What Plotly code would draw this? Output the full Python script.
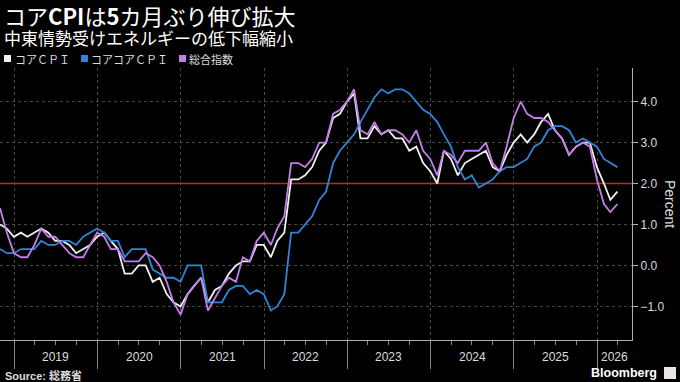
import plotly.graph_objects as go
import pandas as pd

# ---------------- data (y/y %, monthly, from Oct 2018) ----------------
start_month = "2018-10-31"
core_cpi = [
    1.0, 0.9, 0.7,
    0.8, 0.7, 0.8, 0.9, 0.8, 0.6, 0.6, 0.5, 0.3, 0.4, 0.5, 0.7,
    0.8, 0.6, 0.4, -0.2, -0.2, 0.0, 0.0, -0.4, -0.3, -0.7, -0.9, -1.0,
    -0.7, -0.5, -0.3, -0.9, -0.6, -0.5, -0.2, 0.0, 0.1, 0.1, 0.5, 0.5,
    0.2, 0.6, 0.8, 2.1, 2.1, 2.2, 2.4, 2.8, 3.0, 3.6, 3.7, 4.0,
    4.2, 3.1, 3.1, 3.4, 3.2, 3.3, 3.1, 3.1, 2.8, 2.9, 2.5, 2.3,
    2.0, 2.8, 2.6, 2.2, 2.5, 2.6, 2.7, 2.8, 2.4, 2.3, 2.7, 3.0,
    3.2, 3.0, 3.2, 3.5, 3.7, 3.3, 3.1, 2.7, 2.9, 3.0, 3.0, 2.4,
    2.0, 1.6, 1.8,
]
core_core_cpi = [
    0.4, 0.3, 0.3,
    0.4, 0.4, 0.4, 0.6, 0.5, 0.5, 0.6, 0.6, 0.5, 0.7, 0.8, 0.9,
    0.8, 0.6, 0.6, 0.2, 0.4, 0.4, 0.4, -0.1, -0.2, -0.3, -0.3, -0.4,
    0.0, 0.0, 0.0, -0.9, -0.9, -0.9, -0.6, -0.5, -0.5, -0.7, -0.6, -0.7,
    -1.1, -1.0, -0.7, 0.8, 0.8, 1.0, 1.2, 1.6, 1.8, 2.5, 2.8, 3.0,
    3.2, 3.5, 3.8, 4.1, 4.3, 4.2, 4.3, 4.3, 4.2, 4.0, 3.8, 3.7,
    3.5, 3.2, 2.9, 2.4, 2.1, 2.2, 1.9, 2.0, 2.1, 2.3, 2.4, 2.4,
    2.5, 2.6, 2.9, 3.0, 3.3, 3.4, 3.4, 3.3, 3.0, 3.1, 3.0, 2.9,
    2.6, 2.5, 2.4,
]
headline_cpi = [
    1.4, 0.8, 0.3,
    0.2, 0.2, 0.5, 0.9, 0.7, 0.7, 0.5, 0.3, 0.2, 0.2, 0.5, 0.8,
    0.7, 0.4, 0.4, 0.1, 0.1, 0.1, 0.3, 0.2, 0.0, -0.4, -0.9, -1.2,
    -0.7, -0.5, -0.3, -1.1, -0.8, -0.5, -0.3, -0.4, 0.2, 0.1, 0.6, 0.8,
    0.5, 0.9, 1.2, 2.5, 2.5, 2.4, 2.6, 3.0, 3.0, 3.7, 3.8, 4.0,
    4.3, 3.3, 3.2, 3.5, 3.2, 3.3, 3.3, 3.2, 3.0, 3.3, 2.8, 2.6,
    2.2, 2.8, 2.7, 2.5, 2.8, 2.8, 2.8, 3.0, 2.5, 2.3, 2.9, 3.6,
    4.0, 3.7, 3.6, 3.6, 3.5, 3.3, 3.1, 2.7, 2.9, 3.0, 2.9, 2.1,
    1.5, 1.3, 1.5,
]
series_names = ["コアＣＰＩ", "コアコアＣＰＩ", "総合指数"]
year_labels = ["2019", "2020", "2021", "2022", "2023", "2024", "2025", "2026"]
y_ticks = [-1, 0, 1, 3, 4]
target_rate = 2.0

dates = pd.date_range(start=start_month, periods=len(core_cpi), freq=pd.offsets.MonthEnd())

# ---------------- styling ----------------
COL_WHITE = "#f0f0f0"
COL_BLUE = "#2f86d6"
COL_PURPLE = "#c47ee8"
COL_RED = "#c0272d"
TXT = "#dcdcdc"
GRID = "#4a4a4a"
AXIS = "#b0b0b0"
LAT = "Liberation Sans, Noto Sans CJK JP, sans-serif"
CJK = "Noto Sans CJK JP, Liberation Sans, sans-serif"

# plot area in pixels: x 0..632, y 68..340
PL, PR, PT, PB = 0, 632, 68, 340
W, H = PR - PL, PB - PT


def px(x):
    return (x - PL) / W


def py(y):
    return (PB - y) / H


x_start = pd.Timestamp("2018-10-31")
x_end = pd.Timestamp("2026-06-03")

fig = go.Figure()
# 2% reference line (red), drawn first so the series sit on top of it
fig.add_trace(go.Scatter(x=[x_start, x_end], y=[target_rate, target_rate], mode="lines",
                         line=dict(color=COL_RED, width=1.3), showlegend=False,
                         hoverinfo="skip"))
colors = [COL_WHITE, COL_BLUE, COL_PURPLE]
for name, vals, col in zip(series_names, [core_cpi, core_core_cpi, headline_cpi], colors):
    fig.add_trace(go.Scatter(x=dates, y=vals, mode="lines", name=name,
                             line=dict(color=col, width=1.8), showlegend=False,
                             hoverinfo="skip"))

year_starts = [pd.Timestamp(f"{y}-01-01") for y in year_labels]
all_ticks = sorted(y_ticks + [target_rate])

fig.update_layout(
    width=680, height=382,
    margin=dict(l=PL, r=680 - PR, t=PT, b=382 - PB, pad=0),
    paper_bgcolor="#000000", plot_bgcolor="#000000",
    font=dict(family=LAT, color=TXT, size=12),
    xaxis=dict(
        type="date", range=[x_start, x_end],
        tickvals=year_starts, showticklabels=False,
        ticks="outside", ticklen=28, tickcolor="#8a8a8a", tickwidth=1,
        showgrid=True, gridcolor=GRID, griddash="dot", gridwidth=1,
        showline=True, linecolor=AXIS, linewidth=1,
        zeroline=False, fixedrange=True,
        minor=dict(ticks="outside", ticklen=4, tickcolor="#8a8a8a",
                   dtick="M3", tick0="2019-01-01", showgrid=False),
    ),
    yaxis=dict(
        side="right", range=[-1.82, 4.82],
        tickvals=all_ticks, tickformat=".1f",
        ticks="outside", ticklen=5, tickcolor=AXIS,
        tickfont=dict(size=12, color=TXT, family=LAT),
        showgrid=False,
        showline=True, linecolor=AXIS, linewidth=1,
        zeroline=False, fixedrange=True,
    ),
)

# dotted horizontal grid (skipping the 2% line, which is drawn in red)
for v in y_ticks:
    fig.add_shape(type="line", xref="paper", yref="y", x0=0, x1=1, y0=v, y1=v,
                  line=dict(color=GRID, width=1, dash="dot"), layer="below")

ann = []
# title & subtitle
ann.append(dict(text="コア<b>CPI</b>は<b>5</b>カ月ぶり伸び拡大", x=px(2), y=py(15.5),
                xanchor="left", yanchor="middle",
                font=dict(family=CJK, size=22, color="#ffffff")))
ann.append(dict(text="中東情勢受けエネルギーの低下幅縮小", x=px(2), y=py(37.5),
                xanchor="left", yanchor="middle",
                font=dict(family=CJK, size=17, color="#ffffff")))

# legend (squares + labels)
legend_sq_x = [4, 81, 179]
legend_txt_x = [13, 89, 187]
for name, col, sx, tx in zip(series_names, colors, legend_sq_x, legend_txt_x):
    fig.add_shape(type="rect", xref="paper", yref="paper",
                  x0=px(sx), x1=px(sx + 7), y0=py(62), y1=py(55),
                  fillcolor=col, line=dict(width=0))
    ann.append(dict(text=name, x=px(tx), y=py(58.5), xanchor="left", yanchor="middle",
                    font=dict(family=CJK, size=11, color=TXT)))

# year labels
for i, lab in enumerate(year_labels):
    s = year_starts[i]
    e = year_starts[i + 1] if i + 1 < len(year_starts) else x_end
    mid = s + (e - s) / 2
    ann.append(dict(text=lab, x=mid, xref="x", y=py(357), yref="paper",
                    xanchor="center", yanchor="middle",
                    font=dict(family=LAT, size=12, color=TXT)))

# axis title
ann.append(dict(text="Percent", x=px(670), y=py(204), textangle=90,
                xanchor="center", yanchor="middle",
                font=dict(family=LAT, size=14, color=TXT)))

# source & logo
ann.append(dict(text="<b>Source: 総務省</b>", x=px(3), y=py(375),
                xanchor="left", yanchor="middle",
                font=dict(family=LAT, size=11, color=TXT)))
ann.append(dict(text="<b>Bloomberg</b>", x=px(659), y=py(373),
                xanchor="right", yanchor="middle",
                font=dict(family=LAT, size=12.5, color="#ffffff")))
fig.add_shape(type="rect", xref="paper", yref="paper",
              x0=px(664), x1=px(676), y0=py(379), y1=py(367),
              fillcolor="#e6e6e6", line=dict(width=0))

for a in ann:
    a.setdefault("xref", "paper")
    a.setdefault("yref", "paper")
    a["showarrow"] = False
fig.update_layout(annotations=ann)

fig.write_html(
    "out.html",
    config={"displayModeBar": False, "staticPlot": True},
    post_script="document.body.style.margin='0';document.body.style.padding='0';"
                "document.body.style.background='#000';",
)
